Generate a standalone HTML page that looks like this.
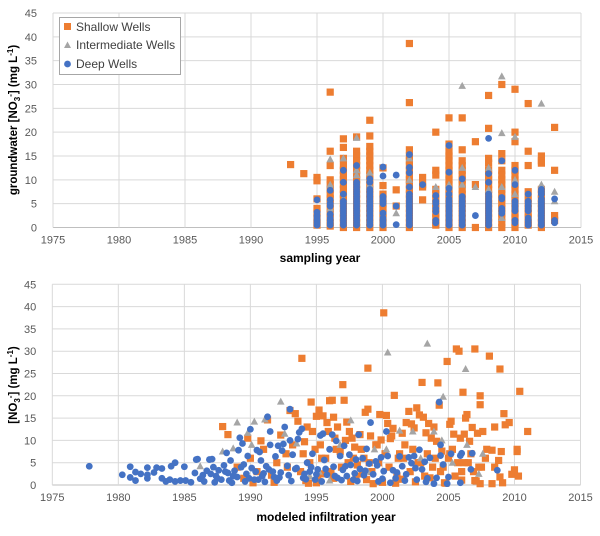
<!DOCTYPE html>
<html><head><meta charset="utf-8"><style>
body{margin:0;background:#fff;width:600px;height:531px;overflow:hidden;font-family:"Liberation Sans",sans-serif}
svg text{font-family:"Liberation Sans",sans-serif}
</style></head><body>
<svg id="c" width="600" height="531" xmlns="http://www.w3.org/2000/svg"></svg>
<script>
// ---------- DATA: top chart (sampling year columns) ----------
const shallowTop = [
[1993,[13.2]],[1994,[11.3]],[1995,[10.5,9.8,6,4,3,2,1,0.5]],
[1996,[28.4,16,13,10,9,8,7,6,5,4,3,2,1,0.3]],
[1997,[18.6,16.8,14.5,13,12,11,10,9,8,7,6,5,4,3,2,1,0]],
[1998,[19,16,15,14,13,12,11,10,9,8,7,6,5,4,3,2,1,0]],
[1999,[22.5,19.2,17,16,15,14,13,12,11,10,9,8,7,6,5,4,3,2,1,0]],
[2000,[12.5,8.8,7,6,5,4,3,2,1,0]],[2001,[7.9,4.5]],
[2002,[38.6,26.2,16.3,15,14,13,12,11,10,9,8,7,6,5,4,3,2,1,0]],
[2003,[10.5,9,8.5,5.8]],[2004,[20,12,11,8,7,6,5,4,3,2,1,0.5]],
[2005,[23,17.5,16,15,14,13,12,11,10,9,8,7,6,5,4,3,2,1,0]],
[2006,[23,16.3,14,13,12,11,10,9,8,7,6,5,4,3,2,1,0]],
[2007,[18,9,0]],
[2008,[27.7,20.8,14.5,13.5,12,11,10,9,8,7,6,5,4,3,2,1,0]],
[2009,[30,15.5,14,12,11,10,9,8,7,6,5,4,3,2,1,0]],
[2010,[29,20,18,13,12,11,10,9,8,7,6,5,4,3,2,1,0]],
[2011,[26,16,13,7.5,6,5,4,3,2,1,0.5]],
[2012,[15,14,13.5,8,7,6,5,4,3,2,1,0]],
[2013,[21,12,2.5,1.5]]
];
const interTop = [
[1996,[14.3,9,4]],[1997,[14.5,6]],[1998,[18.8,12,11]],[1999,[11.5,9]],[2001,[3]],
[2002,[14.5,10]],[2004,[8.5]],[2005,[9]],[2006,[29.7,12.5,9]],[2007,[8.5]],
[2008,[12.5,8]],[2009,[31.7,19.8,8.5,2]],[2010,[19,10,7]],[2011,[2]],[2012,[26,9,6]],[2013,[7.5,5.5]]
];
const deepTop = [
[1995,[5.8,3.2,2.5,2,1.5,1,0.5]],[1996,[7.8,5.8,5,4.5,2.8,2,1.5,1,0.5]],
[1997,[12,9.5,7,5.5,5,4.5,4,3.5,3,2.5,2,1.5,1,0.5]],
[1998,[13,9.5,9,8.5,8,7.5,7,6.5,6,5.5,5,4.5,4,3.5,3,2.5,2,1.5,1,0.5]],
[1999,[10.2,9.5,8,7.5,7,6.5,6,5.5,5,4.5,4,3.5,3,2.5,2,1.5,1,0.5]],
[2000,[12.7,10.8,6.5,6,5.5,5,3,2,1.5,1,0.5]],[2001,[11,4.5,0.6]],
[2002,[15.3,12.6,11.5,8.5,7,6.5,6,5.5,5,4.5,4,3.5,3,2.5,2,1.5,1,0.5]],
[2003,[9]],[2004,[6.7,5.5,5,4,3.3,1.5,1]],
[2005,[17.2,11.6,8.2,7,6,5.5,5,4.5,4,3.5,3,2.5,2,1.5,1,0.5]],
[2006,[10.2,6.5,6,5.5,5,4.5,4,3.5,3,2.5,2,1.5,1,0.5]],[2007,[2.5]],
[2008,[18.7,11.3,9.5,7,6.5,6,5.5,5,4.5,4,3.5,3,2.5,2,1.5,1,0.5]],
[2009,[14,6.3,6,4,3.5,3]],[2010,[12,9,5.5,5,4.5,4,3.5,1.5,1]],
[2011,[7,5.5,5,4.5,4,3.5,2,1.5,1,0.5]],
[2012,[8,7.5,7,6,5.5,5,4.5,4,3.5,3,2.5,2,1.5,1,0.5]],[2013,[6,1.5,1]]
];
// ---------- DATA: bottom chart (modeled infiltration year) ----------
const shallowX = [1987.9,1988.3,1989.0,1989.5,1989.8,1990.2,1990.5,1990.8,1991.3,1991.6,1991.8,1992.3,1992.7,1993.0,1993.4,1993.6,1993.9,1994.1,1994.3,1994.4,1994.6,1994.7,1994.9,1995.0,1995.2,1995.4,1995.5,1995.6,1995.8,1996.0,1996.2,1996.3,1996.4,1996.6,1996.8,1997.0,1997.1,1997.3,1997.5,1997.7,1997.9,1998.1,1998.3,1998.5,1998.7,1998.9,1998.9,1999.1,1999.3,1999.5,1999.8,1999.9,2000.1,2000.3,2000.4,2000.6,2000.8,2000.9,2001.0,2001.3,2001.5,2001.8,2002.0,2002.2,2002.4,2002.6,2002.8,2003.0,2003.1,2003.3,2003.5,2003.7,2003.9,2004.1,2004.2,2004.3,2004.5,2004.7,2004.9,2005.1,2005.2,2005.4,2005.6,2005.8,2005.9,2006.1,2006.2,2006.3,2006.4,2006.6,2006.8,2007.0,2007.2,2007.4,2007.4,2007.6,2007.9,2008.1,2008.3,2008.5,2008.8,2008.9,2009.0,2009.2,2009.3,2009.6,2009.8,2010.0,2010.2,2010.2,2010.3,2010.4,2011.0,2007.0,2007.4,2008.3,2009.1,2005.1,2006.5,2006.0,2008.5,2008.9,
1990.0,1991.0,1992.0,1993.2,1994.0,1995.3,1995.9,1996.5,1997.2,1997.8,1998.4,1999.0,1999.6,2000.2,2000.7,2001.2,2001.7,2002.3,2002.9,2003.4,2004.0,2004.6,2005.3,2005.7,2006.7,2007.3,2007.8,
1992.8,1993.8,1994.5,1995.1,1995.7,1996.1,1996.9,1997.4,1998.0,1998.6,1999.2,1999.7,2000.5,2001.1,2001.6,2002.1,2002.7,2003.2,2003.8,2004.4,2005.0,2005.5,2006.2,2006.9,2007.5,
1994.2,1995.0,1996.3,1997.6,1998.8,2000.0,2001.4,2002.5,2003.6,2004.8,2006.0,2007.1];
const shallowY = [13.1,11.3,4,1.5,10.5,0.5,3,9.9,14.6,2.2,0.6,11.2,7,16.7,16,14.3,28.4,9.7,13,0.4,18.6,12,8,15.4,16.8,6,15.5,2.5,14,18.9,19,15.2,10.5,13,7.5,22.5,19,14.1,12,10.5,8.5,4.5,11.3,2.5,16.3,26.2,17,11,0.3,9,15.8,10.1,38.6,15.6,13.8,10.4,12.7,20.1,0.4,7,11.6,14,16.5,13.7,12.8,17.3,15.7,23,15.2,11.7,13.8,10.5,13,9.8,22.9,17.9,7.6,0.5,27.7,13.6,14.3,11.4,30.5,30,10.5,20.8,11.4,15,15.8,9.8,12.9,30.5,11.6,20,18,12,8,28.9,7.8,13,5.5,26,7.5,16,13.5,14,2.4,3.4,8,7.5,2,21,12,1,0.3,0.3,0.5,7,5,3,4,1.8,
6,8,5,9,7,9,12,8,10,6,8,5,9,7,11,6,9,8,5,7,6,4,8,5,7,4,6,
4,3,5,2,6,3,4,5,2,6,3,5,4,2,6,3,5,2,4,3,6,2,5,3,4,
1,0.5,1.5,0.8,1.2,0.6,1.3,0.7,1.6,0.4,1.1,0.9];
const interX = [1986.2,1987.9,1988.7,1989.0,1989.8,1990.3,1990.1,1991.1,1992.3,1992.6,1993.5,1994.5,1995.2,1996.8,1997.6,1999.4,2000.4,2000.3,2001.3,2002.3,2003.4,2003.9,2004.6,2004.5,2005.3,2006.3,2006.4,2007.3,2007.6,2002.9,1998.9,1996.0];
const interY = [4.2,7.5,8.2,14,11.7,14.2,9,14.7,18.7,11.5,9.3,2,3,9,14.5,8,29.7,8,12.2,12,31.7,12,19.8,10,5,26,9,2.5,7,6,3,1];
const deepX = [1977.8,1980.3,1980.9,1980.9,1981.3,1981.3,1981.7,1982.2,1982.2,1982.2,1982.7,1982.9,1983.3,1983.3,1983.6,1983.9,1984.0,1984.3,1984.3,1984.7,1985.0,1985.1,1985.5,1985.8,1985.9,1986.0,1986.2,1986.4,1986.5,1986.7,1986.9,1987.1,1987.2,1987.4,1987.6,1987.8,1988.0,1988.2,1988.3,1988.5,1988.6,1988.8,1989.0,1989.1,1989.2,1989.4,1989.5,1989.7,1989.8,1990.0,1990.1,1990.3,1990.5,1990.7,1990.8,1991.0,1991.2,1991.3,1991.5,1991.5,1991.7,1991.9,1992.1,1992.2,1992.4,1992.5,1992.6,1992.8,1993.0,1993.0,1993.2,1993.4,1993.6,1993.7,1993.9,1994.1,1994.3,1994.6,1994.7,1994.9,1995.1,1995.3,1995.5,1995.6,1995.8,1996.0,1996.2,1996.3,1996.5,1996.6,1996.8,1997.0,1997.1,1997.3,1997.5,1997.6,1997.8,1998.0,1998.2,1998.3,1998.5,1998.6,1998.8,1999.0,1999.1,1999.3,1999.5,1999.7,1999.9,2000.1,2000.3,2000.4,2000.6,2000.8,2001.0,2001.3,2001.5,2001.8,2002.0,2002.2,2002.4,2002.6,2002.8,2003.0,2003.2,2003.4,2003.6,2003.9,2004.1,2004.3,2004.4,2004.4,2004.6,2004.9,2005.0,2005.2,2005.9,2005.9,2006.0,2006.7,2006.8,2008.7,
1987.0,1987.5,1988.1,1988.7,1989.3,1989.9,1990.4,1990.9,1991.4,1991.8,1992.3,1992.9,1993.5,1994.0,1994.5,1995.0,1995.7,1996.4,1997.2,1997.9,1998.7,1999.6,2001.1,2002.5,
1987.3,1988.4,1989.6,1990.6,1991.1,1992.0,1993.1,1994.2,1995.4,1996.9,1998.1,2000.0,2001.7,2003.3];
const deepY = [4.2,2.3,4.1,1.7,1,2.9,2.5,2.3,3.9,1.5,2.8,3.9,3.7,1.5,0.8,1.2,4.2,5,0.8,1,4.1,1,0.6,2.7,5.7,5.8,1.4,2.2,0.8,3.2,5.7,5.8,4,2,3.3,1.2,4.4,7.2,2.7,5.5,0.5,3.2,1.8,7.8,10.6,9.3,4.6,2.5,6.5,12.5,3.8,1.2,7.8,7.4,5.5,2.6,4.2,15.3,12,9,3,6.4,8.8,1.7,7.7,9.2,13,4.3,10,17,6.8,3.6,10.3,11.8,12.6,2.5,5,4,7,1.2,3.5,11.1,11.5,5.6,2.3,8,11.3,4.1,9.9,1.6,6.5,3.4,8.8,2,6.8,4.5,1.2,5.7,11.3,3.6,6,2.2,8.1,4.8,14,2.4,5.3,0.8,6.2,3.1,12,6.5,0.5,3.3,1.5,6.4,4.2,2.4,6.2,4.9,6.5,1.2,7.9,3.5,5.2,1.5,6.1,0.3,1.6,18.6,9,6.6,4.6,0.3,1.8,7,0.5,6.6,7.1,3.5,7.1,3.3,
2.5,1.5,3,2,4,1.5,3,2,3.5,1.8,2.8,2.2,3.8,1.6,3,2.4,3.6,2,4.2,2.6,3.2,4.4,2.8,3.8,
0.6,1,0.8,1.2,0.7,1,0.9,1.3,0.8,1.1,0.9,1.4,1,0.7];
const xTicks = [1975,1980,1985,1990,1995,2000,2005,2010,2015];
const yTicks = [0,5,10,15,20,25,30,35,40,45];

const NS="http://www.w3.org/2000/svg";
const svg=document.getElementById('c');
const C_OR="#ED7D31",C_GR="#A5A5A5",C_BL="#4472C4";
function el(tag,attrs,parent){const e=document.createElementNS(NS,tag);for(const k in attrs)e.setAttribute(k,attrs[k]);(parent||svg).appendChild(e);return e;}
function makeAxes(x0,x1,yTop,yBot){
  const sx=v=>x0+(v-1975)/(2015-1975)*(x1-x0);
  const sy=v=>yBot-v/45*(yBot-yTop);
  return {sx,sy};
}
function drawFrame(ax,x0,x1,yTop,yBot,name){
  const g=el('g',{});
  
  
  yTicks.forEach(t=>{
    const l=el('line',{x1:x0,x2:x1,y1:ax.sy(t),y2:ax.sy(t),stroke:t===0?'#bfbfbf':'#d9d9d9','stroke-width':1},g);
    
    
    const tx=el('text',{x:x0-16,y:ax.sy(t)+4,'text-anchor':'end','font-size':11,fill:'#595959'},g);
    tx.textContent=t;
    
    
  });
  xTicks.forEach(t=>{
    const l=el('line',{x1:ax.sx(t),x2:ax.sx(t),y1:yTop,y2:yBot,stroke:'#d9d9d9','stroke-width':1},g);
    
    
    const tx=el('text',{x:ax.sx(t),y:yBot+16,'text-anchor':'middle','font-size':11,fill:'#595959'},g);
    tx.textContent=t;
    
    
  });
}
function sq(x,y,parent){const r=el('rect',{x:x-3.6,y:y-3.6,width:7.2,height:7.2,fill:C_OR},parent);}
function tri(x,y,parent){const p=el('polygon',{points:`${x},${y-4} ${x+3.8},${y+3} ${x-3.8},${y+3}`,fill:C_GR},parent);}
function dot(x,y,parent){const c=el('circle',{cx:x,cy:y,r:3.4,fill:C_BL},parent);}

// Top chart
const A=makeAxes(53,581,13,227.5);
drawFrame(A,53,581,13,227.5,'top-chart');
const gT=el('g',{});


shallowTop.forEach(([yr,vals])=>vals.forEach(v=>sq(A.sx(yr),A.sy(v),gT)));
interTop.forEach(([yr,vals])=>vals.forEach(v=>tri(A.sx(yr),A.sy(v),gT)));
deepTop.forEach(([yr,vals])=>vals.forEach(v=>dot(A.sx(yr),A.sy(v),gT)));

// Bottom chart
const B=makeAxes(52.3,580.5,284.3,485);
drawFrame(B,52.3,580.5,284.3,485,'bottom-chart');
const gB=el('g',{});


shallowX.forEach((x,i)=>sq(B.sx(x),B.sy(shallowY[i]),gB));
interX.forEach((x,i)=>tri(B.sx(x),B.sy(interY[i]),gB));
deepX.forEach((x,i)=>dot(B.sx(x),B.sy(deepY[i]),gB));
</script>
<svg width="600" height="531" style="position:absolute;left:0;top:0" xmlns="http://www.w3.org/2000/svg">
  <g>
    <rect x="59.5" y="17.5" width="121" height="57" fill="#fff" stroke="#a6a6a6"/>
    <rect x="64" y="23" width="7" height="7" fill="#ED7D31"/>
    <text x="76" y="31" font-size="12" fill="#404040">Shallow Wells</text>
    <polygon points="67.5,41.5 71,48 64,48" fill="#A5A5A5"/>
    <text x="76" y="49" font-size="12" fill="#404040">Intermediate Wells</text>
    <circle cx="67.5" cy="64" r="3.4" fill="#4472C4"/>
    <text x="76" y="68" font-size="12" fill="#404040">Deep Wells</text>
  </g>
  <text x="320" y="262" text-anchor="middle" font-size="12" font-weight="bold" fill="#000">sampling year</text>
  <text transform="translate(17,120) rotate(-90)" text-anchor="middle" font-size="11.5" font-weight="bold" fill="#000">groundwater [NO<tspan font-size="8" dy="3">3</tspan><tspan font-size="8" dy="-7">-</tspan><tspan dy="4">] (mg L</tspan><tspan font-size="8" dy="-4">-1</tspan><tspan dy="4">)</tspan></text>
  <text x="326" y="521" text-anchor="middle" font-size="12" font-weight="bold" fill="#000">modeled infiltration year</text>
  <text transform="translate(17,385) rotate(-90)" text-anchor="middle" font-size="11.5" font-weight="bold" fill="#000">[NO<tspan font-size="8" dy="3">3</tspan><tspan font-size="8" dy="-7">-</tspan><tspan dy="4">] (mg L</tspan><tspan font-size="8" dy="-4">-1</tspan><tspan dy="4">)</tspan></text>
</svg>
</body></html>
